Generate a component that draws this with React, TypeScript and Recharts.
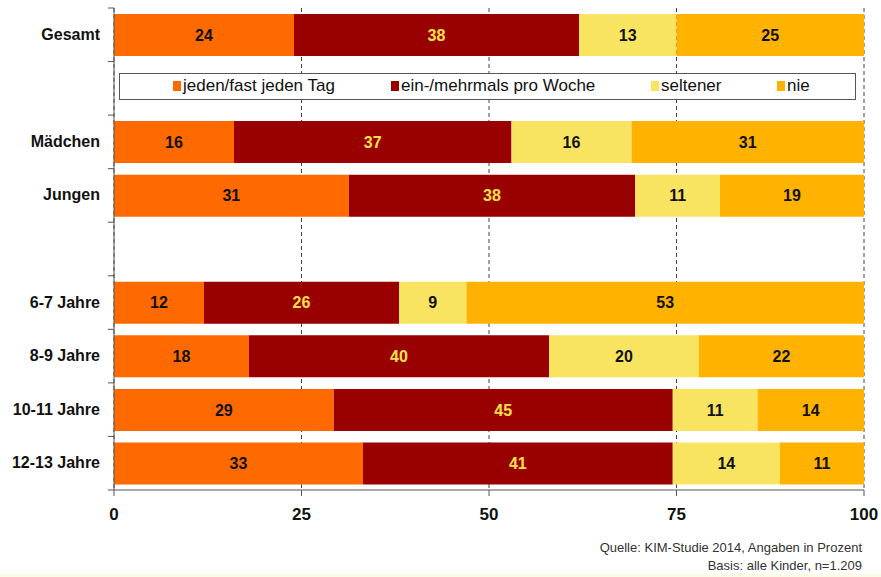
import { Bar, BarChart, CartesianGrid, LabelList, XAxis, YAxis } from "recharts";

const categories = ["Gesamt", "", "Mädchen", "Jungen", "", "6-7 Jahre", "8-9 Jahre", "10-11 Jahre", "12-13 Jahre"];
const daily = [24, null, 16, 31.3, null, 12, 18, 29.3, 33.2];
const weekly = [38, null, 37, 38.2, null, 26, 40, 45.2, 41.3];
const rarely = [13, null, 16, 11.3, null, 9, 20, 11.3, 14.3];
const never = [25, null, 31, 19.2, null, 53, 22, 14.2, 11.2];
const xTicks = [0, 25, 50, 75, 100];

const seriesNames = ["jeden/fast jeden Tag", "ein-/mehrmals pro Woche", "seltener", "nie"];
const seriesKeys = ["daily", "weekly", "rarely", "never"];
const seriesColors = ["#FF6A00", "#990000", "#F9E462", "#FFB300"];
const labelColors = ["#111111", "#FFE24A", "#111111", "#111111"];

const data = categories.map((name, i) => ({
  name,
  daily: daily[i],
  weekly: weekly[i],
  rarely: rarely[i],
  never: never[i],
}));

const NARROW = "'Liberation Sans Narrow', 'Arial Narrow', 'Liberation Sans', Arial, sans-serif";
const SANS = "'Liberation Sans', Arial, sans-serif";

const PLOT_TOP = 8;
const PLOT_BOTTOM = 490;
const AXIS_X = 114;
const BAND = (PLOT_BOTTOM - PLOT_TOP) / categories.length;

const legendX = [172, 390, 650, 776];

function YTick(props: any) {
  const { y, payload, index } = props;
  const last = index === categories.length - 1;
  return (
    <g>
      <line x1={AXIS_X - 6} x2={AXIS_X} y1={y - BAND / 2} y2={y - BAND / 2} stroke="#555" />
      {last && <line x1={AXIS_X - 6} x2={AXIS_X} y1={y + BAND / 2} y2={y + BAND / 2} stroke="#555" />}
      <text
        x={100}
        y={y}
        dy={5}
        textAnchor="end"
        fontFamily={SANS}
        fontWeight="bold"
        fontSize={16}
        fill="#111"
      >
        {payload.value}
      </text>
    </g>
  );
}

export default function App() {
  return (
    <div style={{ position: "absolute", left: 0, top: 0, width: 881, height: 577, background: "#fff" }}>
      <BarChart
        width={881}
        height={577}
        data={data}
        layout="vertical"
        margin={{ top: PLOT_TOP, right: 17, left: 0, bottom: 57 }}
        barCategoryGap={6}
      >
        <CartesianGrid horizontal={false} stroke="#444" strokeDasharray="4 3" />
        <XAxis
          type="number"
          domain={[0, 100]}
          ticks={xTicks}
          interval={0}
          height={30}
          stroke="#555"
          tickSize={6}
          tickMargin={12}
          tick={{ fontFamily: NARROW, fontWeight: "bold", fontSize: 17, fill: "#111" }}
        />
        <YAxis
          type="category"
          dataKey="name"
          width={AXIS_X}
          stroke="#555"
          tickLine={false}
          interval={0}
          tick={<YTick />}
        />
        {seriesKeys.map((key, i) => (
          <Bar key={key} dataKey={key} name={seriesNames[i]} stackId="a" fill={seriesColors[i]} isAnimationActive={false}>
            <LabelList
              dataKey={key}
              position="center"
              formatter={(v: any) => (v == null ? "" : Math.round(v))}
              fill={labelColors[i]}
              fontFamily={NARROW}
              fontWeight="bold"
              fontSize={16}
            />
          </Bar>
        ))}
      </BarChart>
      <div
        style={{
          position: "absolute",
          left: 119,
          top: 73,
          width: 737,
          height: 27,
          boxSizing: "border-box",
          border: "1px solid #555",
          background: "#fff",
          fontFamily: NARROW,
          fontSize: 17,
          color: "#111",
        }}
      >
        {seriesNames.map((n, i) => (
          <div
            key={n}
            style={{ position: "absolute", left: legendX[i] - 119, top: 2, display: "flex", alignItems: "center", whiteSpace: "nowrap" }}
          >
            <span style={{ display: "inline-block", width: 8, height: 10, background: seriesColors[i], marginRight: 2 }} />
            {n}
          </div>
        ))}
      </div>
      <div
        style={{
          position: "absolute",
          right: 19,
          top: 539,
          textAlign: "right",
          fontFamily: NARROW,
          fontSize: 13,
          lineHeight: "18px",
          color: "#333",
        }}
      >
        <div>Quelle: KIM-Studie 2014, Angaben in Prozent</div>
        <div>Basis: alle Kinder, n=1.209</div>
      </div>
      <div style={{ position: "absolute", left: 0, bottom: 0, width: 881, height: 3, background: "#FBFCE3" }} />
    </div>
  );
}
